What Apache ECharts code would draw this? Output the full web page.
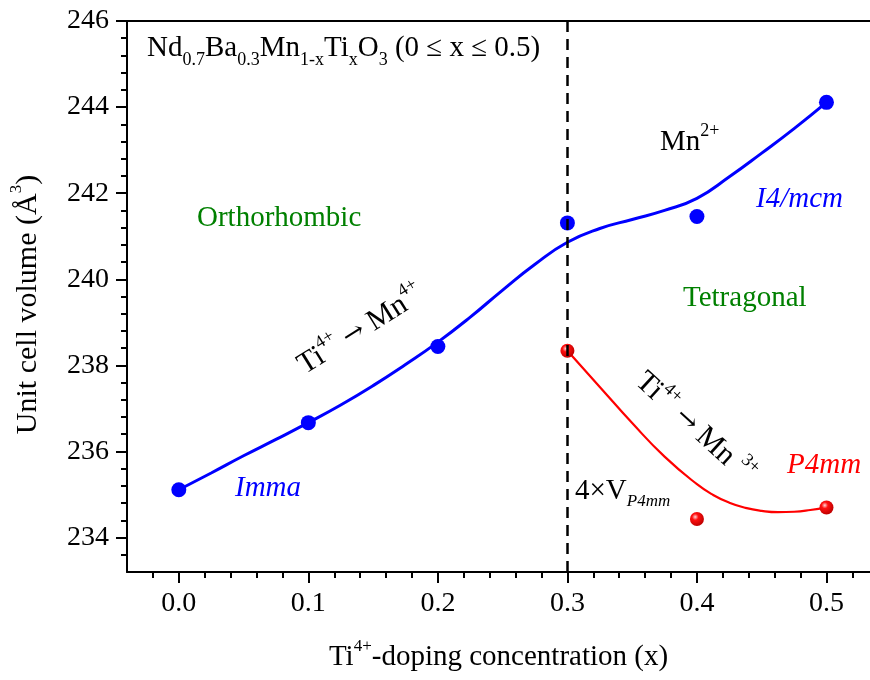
<!DOCTYPE html>
<html>
<head>
<meta charset="utf-8">
<script src="https://cdn.jsdelivr.net/npm/echarts@6/dist/echarts.min.js"></script>
<style>html,body{margin:0;padding:0;background:#fff}#c{width:870px;height:680px}</style>
</head>
<body>
<div id="c"></div>
<script>
// ---- data ----
const sampleX = [0, 0.1, 0.2, 0.3, 0.4, 0.5];
const blueVolume = [235.11, 236.67, 238.44, 241.31, 241.46, 244.11];
const redX = [0.3, 0.4, 0.5];
const redVolume = [238.34, 234.43, 234.70];
const blueFitX = [0, 0.025, 0.05, 0.075, 0.1, 0.125, 0.15, 0.175, 0.2, 0.225, 0.25, 0.275, 0.3, 0.325, 0.35, 0.375, 0.4, 0.425, 0.45, 0.475, 0.5];
const blueFitY = [235.11, 235.50, 235.90, 236.28, 236.67, 237.08, 237.53, 238.02, 238.54, 239.12, 239.75, 240.35, 240.86, 241.18, 241.39, 241.60, 241.88, 242.38, 242.93, 243.50, 244.11];
const redFitX = [0.3, 0.325, 0.35, 0.375, 0.4, 0.4125, 0.425, 0.4375, 0.45, 0.4625, 0.475, 0.4875, 0.5];
const redFitY = [238.34, 237.50, 236.66, 235.88, 235.24, 234.99, 234.81, 234.69, 234.62, 234.59, 234.60, 234.64, 234.70];
const xMajorTicks = [0, 0.1, 0.2, 0.3, 0.4, 0.5];
const xMinorTicks = [-0.02, 0, 0.02, 0.04, 0.06, 0.08, 0.1, 0.12, 0.14, 0.16, 0.18, 0.2, 0.22, 0.24, 0.26, 0.28, 0.3, 0.32, 0.34, 0.36, 0.38, 0.4, 0.42, 0.44, 0.46, 0.48, 0.5, 0.52];
const yMajorTicks = [234, 236, 238, 240, 242, 244, 246];
const yMinorTicks = [233.6, 234, 234.4, 234.8, 235.2, 235.6, 236, 236.4, 236.8, 237.2, 237.6, 238, 238.4, 238.8, 239.2, 239.6, 240, 240.4, 240.8, 241.2, 241.6, 242, 242.4, 242.8, 243.2, 243.6, 244, 244.4, 244.8, 245.2, 245.6];
const phaseBoundary = 0.3;

const FONT = '"Liberation Serif", "Times New Roman", serif';
const ARROWFONT = '"DejaVu Serif", "Liberation Serif", serif';
const xMin = -0.04, xMax = 0.5336, yMin = 233.2, yMax = 246;

const chart = echarts.init(document.getElementById('c'), null, {renderer: 'canvas'});

function supRich(size, supSize) {
  return {
    n: {fontFamily: FONT, fontSize: size, color: '#000', lineHeight: size + 10},
    s: {fontFamily: FONT, fontSize: supSize, color: '#000', lineHeight: supSize, verticalAlign: 'top'}
  };
}

function pair(xs, ys) { return xs.map((x, i) => [x, ys[i]]); }

const axisCommonX = {type: 'value', min: xMin, max: xMax, splitLine: {show: false}};
const axisCommonY = {type: 'value', min: yMin, max: yMax, splitLine: {show: false}};

const option = {
  animation: false,
  backgroundColor: '#fff',
  grid: {left: 127, right: 0, top: 21, bottom: 108, containLabel: false, outerBoundsMode: 'none'},
  xAxis: [
    Object.assign({}, axisCommonX, {
      position: 'bottom',
      axisLine: {show: true, onZero: false, lineStyle: {color: '#000', width: 2}},
      axisTick: {show: true, inside: false, length: 11, lineStyle: {color: '#000', width: 2}, customValues: xMajorTicks},
      axisLabel: {show: true, margin: 18, color: '#000', fontFamily: FONT, fontSize: 28, customValues: xMajorTicks,
        formatter: v => v.toFixed(1)},
      name: '{n|Ti}{s|4+}{n|-doping concentration (x)}',
      nameLocation: 'middle', nameGap: 66,
      nameTextStyle: {rich: supRich(29, 17)}
    }),
    Object.assign({}, axisCommonX, {
      position: 'bottom',
      axisLine: {show: false, onZero: false},
      axisTick: {show: true, inside: false, length: 6, lineStyle: {color: '#000', width: 2}, customValues: xMinorTicks},
      axisLabel: {show: false}
    }),
    Object.assign({}, axisCommonX, {
      position: 'top',
      axisLine: {show: true, onZero: false, lineStyle: {color: '#000', width: 2}},
      axisTick: {show: false}, axisLabel: {show: false}
    })
  ],
  yAxis: [
    Object.assign({}, axisCommonY, {
      position: 'left',
      axisLine: {show: true, onZero: false, lineStyle: {color: '#000', width: 2}},
      axisTick: {show: true, inside: false, length: 11, lineStyle: {color: '#000', width: 2}, customValues: yMajorTicks},
      axisLabel: {show: true, margin: 18, color: '#000', fontFamily: FONT, fontSize: 28, customValues: yMajorTicks,
        formatter: v => String(Math.round(v))},
      name: '{n|Unit cell volume (Å}{s|3}{n|)}',
      nameLocation: 'middle', nameGap: 79, nameRotate: 90,
      nameTextStyle: {rich: supRich(30, 17), padding: [0, 16, 0, 0]}
    }),
    Object.assign({}, axisCommonY, {
      position: 'left',
      axisLine: {show: false, onZero: false},
      axisTick: {show: true, inside: false, length: 6, lineStyle: {color: '#000', width: 2}, customValues: yMinorTicks},
      axisLabel: {show: false}
    })
  ],
  series: [
    {
      type: 'line', name: 'blueFit', xAxisIndex: 0, yAxisIndex: 0,
      data: pair(blueFitX, blueFitY), smooth: true, showSymbol: false, symbol: 'none',
      lineStyle: {color: '#0000ff', width: 3}, z: 2, silent: true,
      markLine: {
        silent: true, symbol: 'none', label: {show: false},
        lineStyle: {color: '#000', width: 2.5, type: [11, 7]},
        data: [{xAxis: phaseBoundary}]
      }
    },
    {
      type: 'line', name: 'redFit', xAxisIndex: 0, yAxisIndex: 0,
      data: pair(redFitX, redFitY), smooth: true, showSymbol: false, symbol: 'none',
      lineStyle: {color: '#ff0000', width: 2.2}, z: 2, silent: true
    },
    {
      type: 'scatter', name: 'blue', xAxisIndex: 0, yAxisIndex: 0,
      data: pair(sampleX, blueVolume), symbol: 'circle', symbolSize: 15,
      itemStyle: {color: '#0000ff', opacity: 1}, z: 4
    },
    {
      type: 'scatter', name: 'red', xAxisIndex: 0, yAxisIndex: 0,
      data: pair(redX, redVolume), symbol: 'circle', symbolSize: 14,
      itemStyle: {opacity: 1, color: {type: 'radial', x: 0.38, y: 0.35, r: 0.65,
        colorStops: [{offset: 0, color: '#ffd6d6'}, {offset: 0.35, color: '#ff1010'}, {offset: 1, color: '#c00000'}]}},
      z: 4
    }
  ],
  graphic: [
    {type: 'text', x: 147, y: 48, z: 10, silent: true,
      style: {text: 'Nd{b|0.7}Ba{b|0.3}Mn{b|1-x}Ti{b|x}O{b|3} (0 ≤ x ≤ 0.5)', fontFamily: FONT, fontSize: 29, fill: '#000',
        lineHeight: 42, verticalAlign: 'middle', align: 'left',
        rich: {b: {fontFamily: FONT, fontSize: 18, fill: '#000', lineHeight: 18, verticalAlign: 'bottom'}}}},
    {type: 'text', x: 197, y: 218, z: 10, silent: true,
      style: {text: 'Orthorhombic', fontFamily: FONT, fontSize: 29, fill: '#008000', verticalAlign: 'middle'}},
    {type: 'text', x: 235, y: 488, z: 10, silent: true,
      style: {text: 'Imma', fontFamily: FONT, fontSize: 29, fontStyle: 'italic', fill: '#0000ff', verticalAlign: 'middle'}},
    {type: 'text', x: 660, y: 142, z: 10, silent: true,
      style: {text: 'Mn{s|2+}', fontFamily: FONT, fontSize: 29, fill: '#000', lineHeight: 40, verticalAlign: 'middle',
        rich: {s: {fontFamily: FONT, fontSize: 18, fill: '#000', lineHeight: 18, verticalAlign: 'top'}}}},
    {type: 'text', x: 756, y: 199, z: 10, silent: true,
      style: {text: 'I4/mcm', fontFamily: FONT, fontSize: 29, fontStyle: 'italic', fill: '#0000ff', verticalAlign: 'middle'}},
    {type: 'text', x: 683, y: 298, z: 10, silent: true,
      style: {text: 'Tetragonal', fontFamily: FONT, fontSize: 29, fill: '#008000', verticalAlign: 'middle'}},
    {type: 'text', x: 787, y: 465, z: 10, silent: true,
      style: {text: 'P4mm', fontFamily: FONT, fontSize: 29, fontStyle: 'italic', fill: '#ff0000', verticalAlign: 'middle'}},
    {type: 'text', x: 575, y: 491, z: 10, silent: true,
      style: {text: '4×V{b|P4mm}', fontFamily: FONT, fontSize: 29, fill: '#000', lineHeight: 38, verticalAlign: 'middle',
        rich: {b: {fontFamily: FONT, fontSize: 17, fontStyle: 'italic', fill: '#000', lineHeight: 17, verticalAlign: 'bottom'}}}},
    {type: 'text', x: 361, y: 330, rotation: 0.56, z: 10, silent: true,
      style: {text: 'Ti{s|4+} {a|→} Mn{s|4+}', fontFamily: FONT, fontSize: 30, fill: '#000', lineHeight: 40,
        align: 'center', verticalAlign: 'middle',
        rich: {s: {fontFamily: FONT, fontSize: 18, fill: '#000', lineHeight: 18, verticalAlign: 'top'},
               a: {fontFamily: ARROWFONT, fontSize: 26, fill: '#000', lineHeight: 40}}}},
    {type: 'text', x: 695, y: 428, rotation: -0.74, z: 10, silent: true,
      style: {text: 'Ti{s|4+} {a|→} Mn {s|3+}', fontFamily: FONT, fontSize: 30, fill: '#000', lineHeight: 40,
        align: 'center', verticalAlign: 'middle',
        rich: {s: {fontFamily: FONT, fontSize: 18, fill: '#000', lineHeight: 18, verticalAlign: 'top'},
               a: {fontFamily: ARROWFONT, fontSize: 26, fill: '#000', lineHeight: 40}}}}
  ]
};
chart.setOption(option);
</script>
</body>
</html>
